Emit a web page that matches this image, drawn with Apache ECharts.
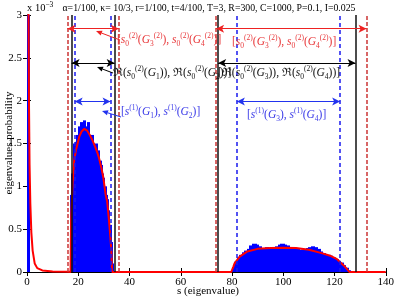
<!DOCTYPE html>
<html><head><meta charset="utf-8">
<script src="https://cdn.jsdelivr.net/npm/echarts@6/dist/echarts.min.js"></script>
<style>html,body{margin:0;padding:0;background:#fff}#c{width:397px;height:301px}</style>
</head><body><div id="c"></div>
<script>
// ---- data (y in units of 1e-3) ----
var xTicks = [0, 20, 40, 60, 80, 100, 120, 140];
var yTicks = [0, 0.5, 1, 1.5, 2, 2.5, 3];
var redLines = [15.8, 35.8, 73.8, 132.5];
var blackLines = [17.4, 34.2, 74.6, 128.2];
var blueLines = [18.6, 32.6, 81.9, 122.2];
var redArrowY = 2.84, blackArrowY = 2.44, blueArrowY = 1.99;

var spikeEdges = [0, 0.4];
var spikeHeights = [5];
var histAEdges = [17.0,17.5,18.0,18.5,19.0,19.5,20.0,20.5,21.0,21.5,22.0,22.5,23.0,23.5,24.0,24.5,25.0,25.5,26.0,26.5,27.0,27.5,28.0,28.5,29.0,29.5,30.0,30.5,31.0,31.5,32.0,32.5,33.0,33.5];
var histAHeights = [0.9,1.15,1.5,1.45,1.52,1.6,1.7,1.62,1.75,1.68,1.77,1.7,1.62,1.75,1.6,1.58,1.6,1.5,1.45,1.5,1.38,1.42,1.3,1.25,1.15,1.1,1.0,0.9,0.85,0.72,0.55,0.35,0.1];
var histBEdges = [80,81,82,83,84,85,86,87,88,89,90,91,92,93,94,95,96,97,98,99,100,101,102,103,104,105,106,107,108,109,110,111,112,113,114,115,116,117,118,119,120,121,122,123,124,125,126];
var histBHeights = [0.05,0.12,0.17,0.2,0.23,0.25,0.27,0.31,0.33,0.32,0.3,0.28,0.28,0.29,0.28,0.28,0.29,0.3,0.32,0.33,0.32,0.31,0.29,0.28,0.27,0.27,0.26,0.26,0.27,0.28,0.29,0.3,0.29,0.27,0.24,0.22,0.21,0.2,0.19,0.17,0.15,0.13,0.11,0.08,0.05,0.02];

var curveX = [0.35,0.6,0.8,1.0,1.3,1.7,2.2,3,4,6,10,16,17.0,17.2,17.8,18.4,19.1,20.4,21.3,22.3,23.5,24.5,25.5,26.5,27.5,28.1,29.0,29.8,30.7,31.3,32.0,32.5,32.9,33.2,79.7,80.5,81,83,86,90,95,100,105,110,115,118.3,121,123.5,125,125.8,140];
var curveY = [10,3.0,1.9,1.25,0.8,0.46,0.25,0.1,0.045,0.018,0.006,0.002,0.0,0.6,1.04,1.3,1.42,1.58,1.64,1.67,1.65,1.6,1.54,1.47,1.39,1.33,1.22,1.1,0.9,0.82,0.6,0.42,0.26,0.0,0.0,0.06,0.1,0.18,0.24,0.27,0.28,0.284,0.28,0.26,0.22,0.19,0.15,0.08,0.03,0.0,0.0];

// ---- build ----
function bins(edges, h){var o=[];for(var i=0;i<h.length;i++)o.push([edges[i],edges[i+1],h[i]]);return o;}
var histData = bins(spikeEdges,spikeHeights).concat(bins(histAEdges,histAHeights)).concat(bins(histBEdges,histBHeights));
var curve = curveX.map(function(x,i){return [x,curveY[i]];});

var FONT = "'Liberation Serif', 'DejaVu Serif', serif";
function richStyles(color){
  return {
    n:{fontFamily:FONT,fontSize:11.5,lineHeight:16,verticalAlign:'middle',fill:color},
    i:{fontFamily:FONT,fontSize:11.5,fontStyle:'italic',lineHeight:16,verticalAlign:'middle',fill:color},
    sup:{fontFamily:FONT,fontSize:7.5,lineHeight:8,verticalAlign:'top',fill:color},
    sub:{fontFamily:FONT,fontSize:7.5,lineHeight:8,verticalAlign:'bottom',fill:color}
  };
}
var S02 = '{i|s}{sub|0}{sup|(2)}';
var redLabel = '{n|[}'+S02+'{n|(}{i|G}{sub|3}{sup|(2)}{n|), }'+S02+'{n|(}{i|G}{sub|4}{sup|(2)}{n|)]}';
var blackLabelL = '{n|ℜ(}'+S02+'{n|(}{i|G}{sub|1}{n|)), ℜ(}'+S02+'{n|(}{i|G}{sub|2}{n|))]}';
var blackLabelR = '{n|[ℜ(}'+S02+'{n|(}{i|G}{sub|3}{n|)), ℜ(}'+S02+'{n|(}{i|G}{sub|4}{n|))]}';
var blueLabelL = '{n|[}{i|s}{sup|(1)}{n|(}{i|G}{sub|1}{n|), }{i|s}{sup|(1)}{n|(}{i|G}{sub|2}{n|)]}';
var blueLabelR = '{n|[}{i|s}{sup|(1)}{n|(}{i|G}{sub|3}{n|), }{i|s}{sup|(1)}{n|(}{i|G}{sub|4}{n|)]}';

var RED='#e8383a', BLUE='#3a3ae8', BLK='#111';
function txt(text,x,y,color,align){
  return {type:'text',x:x,y:y,z:100,style:{text:text,rich:richStyles(color),fill:color,font:'11.5px '+FONT,align:align||'left',verticalAlign:'middle'}};
}
function pointer(x0,y0,x1,y1,color){
  var dx=x1-x0, dy=y1-y0, L=Math.sqrt(dx*dx+dy*dy), ux=dx/L, uy=dy/L, s=6, w=2.6;
  var bx=x1-ux*s, by=y1-uy*s;
  return [
    {type:'line',z:100,shape:{x1:x0,y1:y0,x2:bx,y2:by},style:{stroke:color,lineWidth:1}},
    {type:'polygon',z:100,shape:{points:[[x1,y1],[bx-uy*w,by+ux*w],[bx+uy*w,by-ux*w]]},style:{fill:color}}
  ];
}

function vlines(vals,color,type,width){
  return {type:'line',data:[],z:5,markLine:{silent:true,symbol:'none',label:{show:false},animation:false,
    lineStyle:{color:color,type:type,width:width},data:vals.map(function(v){return {xAxis:v};})}};
}
function harrow(x0,x1,y,color){
  return [{coord:[x0,y],lineStyle:{color:color}},{coord:[x1,y]}];
}

var chart = echarts.init(document.getElementById('c'),null,{renderer:'canvas'});
var axisCommon = {axisLine:{show:true,lineStyle:{color:'#000',width:1}},axisTick:{show:true,inside:true,length:4,lineStyle:{color:'#000'}},splitLine:{show:false}};
var option = {
  animation:false,
  grid:{left:27,right:8,top:15,bottom:29},
  xAxis:[
    Object.assign({type:'value',min:0,max:140,interval:20,position:'bottom',
      axisLabel:{color:'#000',fontFamily:FONT,fontSize:11,margin:5,customValues:xTicks}},axisCommon),
    Object.assign({type:'value',min:0,max:140,interval:20,position:'top',axisLabel:{show:false}},axisCommon)
  ],
  yAxis:[
    Object.assign({type:'value',min:0,max:3,interval:0.5,position:'left',
      axisLabel:{color:'#000',fontFamily:FONT,fontSize:11,margin:5}},axisCommon),
    Object.assign({type:'value',min:0,max:3,interval:0.5,position:'right',axisLabel:{show:false}},axisCommon)
  ],
  series:[
    {type:'custom',data:histData,z:2,
      renderItem:function(params,api){
        var p0=api.coord([api.value(0),api.value(2)]), p1=api.coord([api.value(1),0]);
        var shape=echarts.graphic.clipRectByRect({x:Math.floor(p0[0]),y:p0[1],width:Math.ceil(p1[0])-Math.floor(p0[0])+1,height:p1[1]-p0[1]},
          {x:params.coordSys.x,y:params.coordSys.y,width:params.coordSys.width,height:params.coordSys.height});
        return shape && {type:'rect',shape:shape,style:{fill:'#0000ff'}};
      }},
    {type:'line',data:curve,z:3,showSymbol:false,clip:true,lineStyle:{color:'#ff0000',width:2},itemStyle:{color:'#ff0000'}},
    vlines(redLines,'#cc3535',[4,2],1.5),
    vlines(blackLines,'#111',"solid",1.5),
    vlines(blueLines,'#1a1aee',[4,3],1.5),
    {type:'line',data:[],z:6,markLine:{silent:true,symbol:['arrow','arrow'],symbolSize:[6,8],label:{show:false},animation:false,
      lineStyle:{type:'solid',width:1},
      data:[
        harrow(redLines[0],redLines[1],redArrowY,'#ee2222'),
        harrow(redLines[2],redLines[3],redArrowY,'#ee2222'),
        harrow(blackLines[0],blackLines[1],blackArrowY,'#000'),
        harrow(blackLines[2],blackLines[3],blackArrowY,'#000'),
        harrow(blueLines[0],blueLines[1],blueArrowY,'#2233ee'),
        harrow(blueLines[2],blueLines[3],blueArrowY,'#2233ee')
      ]}}
  ],
  graphic:[
    {type:'text',x:209,y:8,style:{text:'α=1/100, κ= 10/3, r=1/100, t=4/100, T=3, R=300, C=1000, P=0.1, I=0.025',font:'9.8px '+FONT,fill:'#000',align:'center',verticalAlign:'middle'}},
    {type:'text',x:27,y:8,style:{text:'{a|x 10}{b|−3}',rich:{a:{fontFamily:FONT,fontSize:10.5,lineHeight:14,verticalAlign:'middle',fill:'#000'},b:{fontFamily:FONT,fontSize:7.5,lineHeight:8,verticalAlign:'top',fill:'#000'}},align:'left',verticalAlign:'middle'}},
    {type:'text',x:208,y:291,style:{text:'s (eigenvalue)',font:'11px '+FONT,fill:'#000',align:'center',verticalAlign:'middle'}},
    {type:'text',x:9,y:143,rotation:Math.PI/2,style:{text:'eigenvalues probability',font:'11px '+FONT,fill:'#000',align:'center',verticalAlign:'middle'}},
    txt(redLabel,117,40,RED),
    txt(redLabel,232,42,RED),
    txt(blackLabelL,113,73,BLK),
    txt(blackLabelR,218,73,BLK),
    txt(blueLabelL,121,112,BLUE),
    txt(blueLabelR,247,115,BLUE)
  ].concat(pointer(120,40,96,31,'#ee2222'))
   .concat(pointer(113,73,97,67,'#000'))
   .concat(pointer(121,117,102,111,'#2233ee'))
};
chart.setOption(option);
</script>
</body></html>
